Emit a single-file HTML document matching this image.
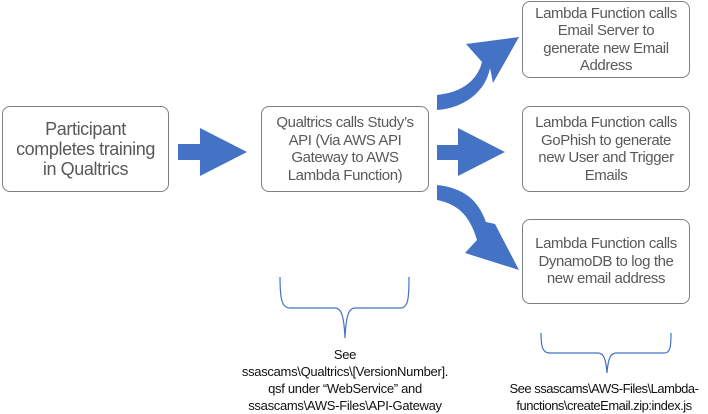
<!DOCTYPE html>
<html><head><style>
body{margin:0;width:708px;height:413px;background:#fff;position:relative;overflow:hidden;font-family:"Liberation Sans",sans-serif;color:#595959}
.b{position:absolute;border:1.3px solid #7f7f7f;border-radius:8px;box-sizing:border-box;display:flex;align-items:center;justify-content:center;text-align:center;font-size:15px;line-height:17.5px;letter-spacing:-0.4px;background:#fff}
.t{position:absolute;text-align:center;font-size:13px;line-height:17px;color:#111;letter-spacing:-0.3px;white-space:nowrap}
</style></head><body>
<svg width="708" height="413" style="position:absolute;left:0;top:0">
<g fill="#4472C4">
<polygon points="178,144 200,144 200,128 247,152 200,176 200,160 178,160"/>
<polygon points="437,145 458,145 458,128 505,152 458,176 458,160 437,160"/>
<path d="M437,95 C465,92 478,78 482,62 L466,44 L519,37 L493,83 L490,68 C486,90 466,108 437,110 Z"/>
<path d="M437,185 C464,188 478,200 486,222 L495,224 L519,270 L465,253 L477,240 C470,216 458,204 437,200 Z"/>
</g>
<g fill="none" stroke="#4472C4" stroke-width="1.2">
<path d="M280,277 C280,300 282,308 290,308 L335,308 C342,308 344,318 345,338 C346,318 348,308 355,308 L400,308 C408,308 409,300 409,277"/>
<path d="M541,333 C541,348 543,353 550,353 L598,353 C604,353 606,360 607,373 C608,360 610,353 616,353 L664,353 C670,353 671,348 671,333"/>
</g>
</svg>
<div class="b" style="left:2px;top:106px;width:167px;height:86px;font-size:18px;line-height:20px">Participant<br>completes training<br>in Qualtrics</div>
<div class="b" style="left:261px;top:106px;width:168px;height:86px">Qualtrics calls Study’s<br>API (Via AWS API<br>Gateway to AWS<br>Lambda Function)</div>
<div class="b" style="left:522px;top:1px;width:168px;height:77px">Lambda Function calls<br>Email Server to<br>generate new Email<br>Address</div>
<div class="b" style="left:522px;top:106px;width:168px;height:86px">Lambda Function calls<br>GoPhish to generate<br>new User and Trigger<br>Emails</div>
<div class="b" style="left:522px;top:219px;width:168px;height:85px">Lambda Function calls<br>DynamoDB to log the<br>new email address</div>
<div class="t" style="left:215px;top:346px;width:260px">See<br>ssascams\Qualtrics\[VersionNumber].<br>qsf under “WebService” and<br>ssascams\AWS-Files\API-Gateway</div>
<div class="t" style="left:500px;top:380px;width:208px;letter-spacing:-0.5px">See ssascams\AWS-Files\Lambda-<br>functions\createEmail.zip:index.js</div>
</body></html>
